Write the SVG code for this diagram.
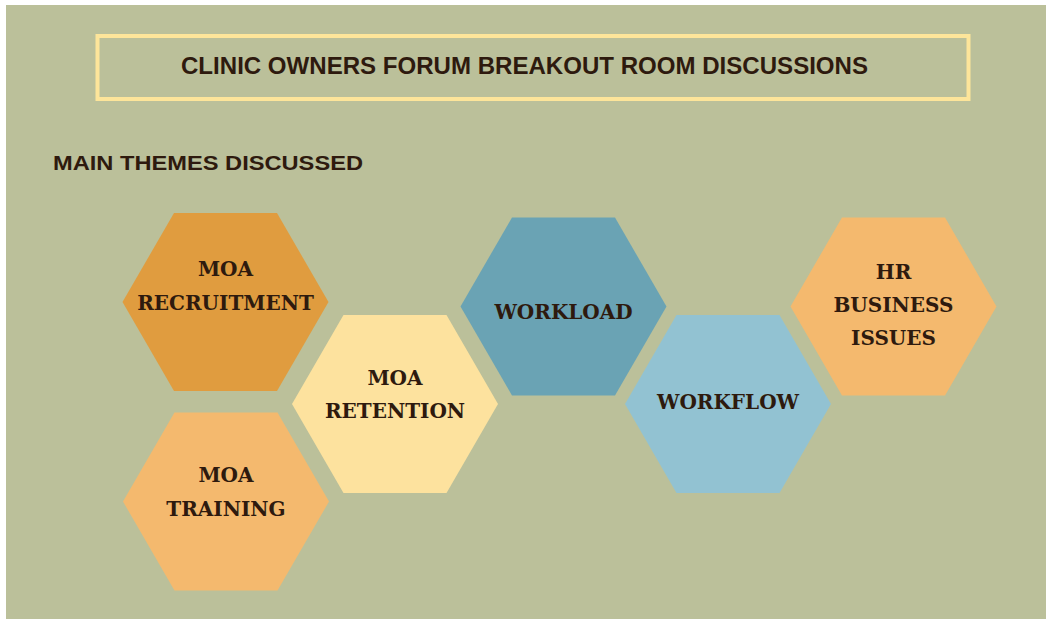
<svg xmlns="http://www.w3.org/2000/svg" xmlns:xlink="http://www.w3.org/1999/xlink" width="1046" height="619" viewBox="0 0 1046 619">
  <style>
    .head { font-family: "Liberation Sans", Arial, sans-serif; font-weight: bold; fill: #2E1A0E; }
    .lbl { font-family: "DejaVu Serif", "Liberation Serif", serif; font-weight: bold; font-size: 20px; fill: #2E1A0E; text-anchor: middle; }
  </style>
  <defs>
    <polygon id="hex" points="-103,0 -51.5,-89 51.5,-89 103,0 51.5,89 -51.5,89"/>
  </defs>
  <rect x="0" y="0" width="1046" height="619" fill="#FFFFFF"/>
  <rect x="6" y="5" width="1040" height="614" fill="#BBC09A"/>

  <g id="title">
    <rect x="97.5" y="36" width="871" height="63" fill="none" stroke="#FDE59A" stroke-width="4"/>
    <text class="head" x="181" y="74" font-size="23" textLength="687" lengthAdjust="spacingAndGlyphs">CLINIC OWNERS FORUM BREAKOUT ROOM DISCUSSIONS</text>
  </g>
  <g id="subtitle">
    <text class="head" x="53" y="170" font-size="20.5" textLength="310" lengthAdjust="spacingAndGlyphs">MAIN THEMES DISCUSSED</text>
  </g>

  <g id="connectors"/>

  <g id="moa-recruitment" transform="translate(225.5,302)">
    <use xlink:href="#hex" href="#hex" fill="#E09C3F"/>
    <text class="lbl" x="0" y="-26">MOA</text>
    <text class="lbl" x="0" y="8">RECRUITMENT</text>
  </g>
  <g id="moa-retention" transform="translate(395,404)">
    <use xlink:href="#hex" href="#hex" fill="#FDE29E"/>
    <text class="lbl" x="0" y="-19">MOA</text>
    <text class="lbl" x="0" y="14">RETENTION</text>
  </g>
  <g id="moa-training" transform="translate(226,501.5)">
    <use xlink:href="#hex" href="#hex" fill="#F4B96E"/>
    <text class="lbl" x="0" y="-19.5">MOA</text>
    <text class="lbl" x="0" y="14.5">TRAINING</text>
  </g>
  <g id="workload" transform="translate(563.5,306.5)">
    <use xlink:href="#hex" href="#hex" fill="#6AA3B4"/>
    <text class="lbl" x="0" y="12.5">WORKLOAD</text>
  </g>
  <g id="workflow" transform="translate(728,404)">
    <use xlink:href="#hex" href="#hex" fill="#92C2D2"/>
    <text class="lbl" x="0" y="5">WORKFLOW</text>
  </g>
  <g id="hr-business-issues" transform="translate(893.5,306.5)">
    <use xlink:href="#hex" href="#hex" fill="#F4B96E"/>
    <text class="lbl" x="0" y="-27.5">HR</text>
    <text class="lbl" x="0" y="5.5">BUSINESS</text>
    <text class="lbl" x="0" y="38.5">ISSUES</text>
  </g>
</svg>
